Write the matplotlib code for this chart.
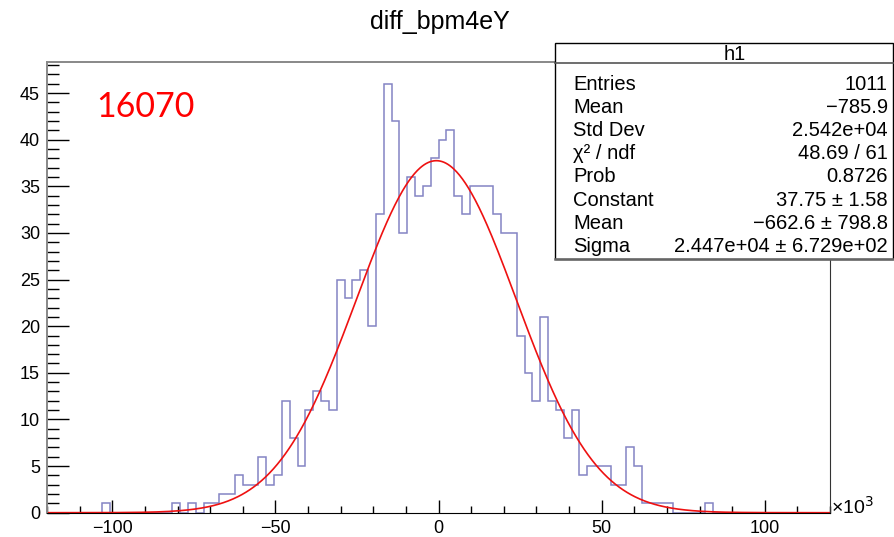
import numpy as np
import matplotlib
matplotlib.use("Agg")
import matplotlib.pyplot as plt
from matplotlib.ticker import MultipleLocator, FixedLocator
from matplotlib.patches import Rectangle
from matplotlib.lines import Line2D

# ---------------- data ----------------
title = "diff_bpm4eY"
run_label = "16070"
x_min, x_max, n_bins = -120.0, 120.0, 100   # x in units of 10^3
counts = [0, 0, 0, 0, 0, 0, 0, 1, 0, 0,
          0, 0, 0, 0, 0, 0, 1, 0, 1, 0,
          1, 1, 2, 2, 4, 3, 3, 6, 3, 4,
          12, 8, 5, 11, 13, 12, 11, 25, 23, 25,
          26, 20, 32, 46, 42, 30, 36, 34, 35, 38,
          40, 41, 34, 32, 35, 35, 35, 32, 30, 30,
          19, 15, 12, 21, 12, 11, 8, 11, 4, 5,
          5, 5, 3, 3, 7, 5, 1, 1, 1, 1,
          0, 0, 0, 0, 1, 0, 0, 0, 0, 0,
          0, 0, 0, 0, 0, 0, 0, 0, 0, 0]
fit_constant = 37.75
fit_mean = -662.6 / 1000.0      # in 10^3
fit_sigma = 2.447e4 / 1000.0    # in 10^3
stats_labels = ["Entries", "Mean", "Std Dev", "χ² / ndf", "Prob",
                "Constant", "Mean", "Sigma"]
stats_values = ["1011", "\u2212785.9", "2.542e+04", "48.69 / 61", "0.8726",
                "37.75 \u00b1 1.58", "\u2212662.6 \u00b1 798.8",
                "2.447e+04 \u00b1 6.729e+02"]
stats_name = "h1"
x_major = [-100, -50, 0, 50, 100]
x_major_labels = ["\u2212100", "\u221250", "0", "50", "100"]

# ---------------- figure ----------------
W, H = 894, 537
fig = plt.figure(figsize=(W / 100, H / 100), dpi=100)
plt.rcParams['font.family'] = ['Liberation Sans', 'DejaVu Sans']

def fx(px):
    return px / W

def fy(py):
    return 1 - py / H

ax_l, ax_r, ax_t, ax_b = 47, 830, 62.3, 512.7
ax = fig.add_axes([fx(ax_l), fy(ax_b), fx(ax_r) - fx(ax_l), fy(ax_t) - fy(ax_b)])

edges = np.linspace(x_min, x_max, n_bins + 1)
ax.stairs(counts, edges, color="#8484c4", linewidth=1.1, baseline=0)

xs = np.linspace(x_min, x_max, 800)
ys = fit_constant * np.exp(-0.5 * ((xs - fit_mean) / fit_sigma) ** 2)
ax.plot(xs, ys, color="#ee1111", linewidth=1.2)

ax.set_xlim(x_min, x_max)
ax.set_ylim(0, 48.3)

ax.xaxis.set_major_locator(FixedLocator(x_major))
ax.set_xticklabels(x_major_labels)
ax.xaxis.set_minor_locator(MultipleLocator(10))
ax.yaxis.set_major_locator(MultipleLocator(5))
ax.yaxis.set_minor_locator(MultipleLocator(1))

ax.tick_params(axis='x', which='major', direction='in', length=9.5, width=1,
               labelsize=13, pad=5, top=False)
ax.tick_params(axis='x', which='minor', direction='in', length=5, width=1, top=False)
ax.tick_params(axis='y', which='major', direction='in', length=16, width=1,
               labelsize=13, pad=5, right=False)
ax.tick_params(axis='y', which='minor', direction='in', length=8.5, width=1, right=False)

for s in ['left', 'top']:
    ax.spines[s].set_color('#888888')
    ax.spines[s].set_linewidth(1.4)
ax.spines['bottom'].set_color('black')
ax.spines['right'].set_color('#333333')

# x10^3 label
fig.text(fx(831), fy(507), "\u00d710$^{3}$", fontsize=14, ha='left', va='center')

# title
fig.text(fx(440), fy(29.3), title, fontsize=18, ha='center', va='baseline')

# run number
fig.text(fx(96), fy(117.3), run_label, fontsize=24.5, color='#ff0000',
         family=['Lato', 'DejaVu Sans'], ha='left', va='baseline')

# stats box
box_l, box_r, box_t, box_b, head_y = 555, 893, 42.7, 259.3, 63.3
fig.add_artist(Rectangle((fx(box_l), fy(box_b)), fx(box_r) - fx(box_l), fy(box_t) - fy(box_b),
                         transform=fig.transFigure, facecolor='white', edgecolor='black',
                         linewidth=1.0, zorder=5))
fig.add_artist(Line2D([fx(box_l), fx(box_r)], [fy(box_b), fy(box_b)], transform=fig.transFigure,
                      color='#666666', linewidth=1.8, zorder=6))
fig.add_artist(Line2D([fx(box_l), fx(box_r)], [fy(head_y), fy(head_y)], transform=fig.transFigure,
                      color='#555555', linewidth=1.2, zorder=6))
fig.text(fx(735), fy(60), stats_name, fontsize=14.5, ha='center', va='baseline', zorder=7)
row0, dy = 90.0, 23.1
for i, (lab, val) in enumerate(zip(stats_labels, stats_values)):
    yb = row0 + i * dy
    fig.text(fx(573), fy(yb), lab, fontsize=14.5, ha='left', va='baseline', zorder=7)
    fig.text(fx(888), fy(yb), val, fontsize=14.5, ha='right', va='baseline', zorder=7)

fig.savefig("out.png", dpi=100)
